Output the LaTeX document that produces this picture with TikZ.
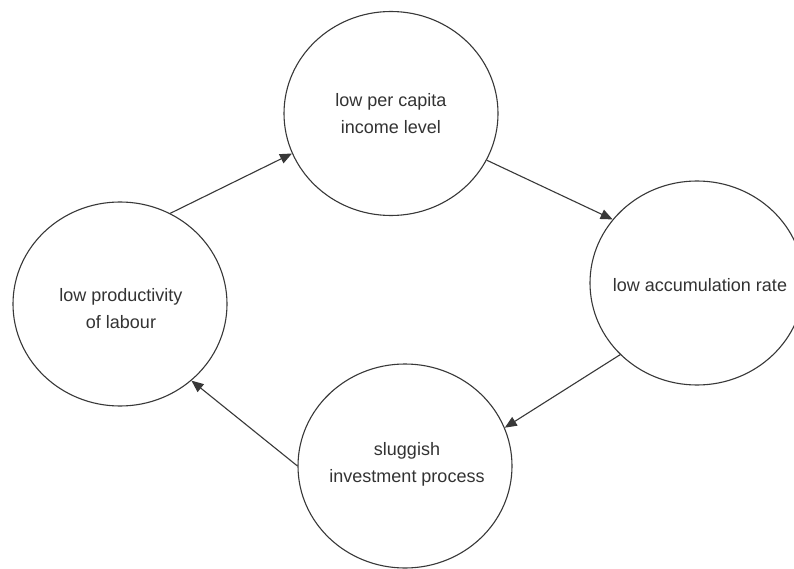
\documentclass[tikz,border=0pt]{standalone}
\usepackage{fontspec}
\setmainfont{Liberation Sans}
\usetikzlibrary{shapes.geometric,arrows.meta}
\tikzset{
  bubble/.style={ellipse, draw=black!78, line width=1.1pt, minimum width=214pt, minimum height=204pt, inner sep=0pt},
  txt/.style={font=\fontsize{18}{27}\selectfont, text=black!80, align=center},
  conn/.style={draw=black!78, line width=1.1pt, -{Triangle[length=12pt,width=10pt]}}
}
\begin{document}
\begin{tikzpicture}[x=1pt,y=-1pt]
\useasboundingbox[fill=white] (0,0) rectangle (794,569);
\node[bubble] (top) at (391,113.5) {};
\node[bubble] (right) at (697,283) {};
\node[bubble] (bottom) at (405,466) {};
\node[bubble] (left) at (120,304) {};
\node[txt] (ttop) at (391,113.5) {low per capita\\income level};
\node[txt] (tright) at (700,285) {low accumulation rate};
\node[txt] (tbottom) at (407,464) {sluggish\\investment process};
\node[txt] (tleft) at (121,309) {low productivity\\of labour};
\draw[conn] (left.61.7) -- (top.202.8);
\draw[conn] (top.-26.6) -- (right.143.1);
\draw[conn] (right.223.6) -- (bottom.21.8);
\draw[conn] (bottom.180) -- (left.-47.9);
\end{tikzpicture}
\end{document}
